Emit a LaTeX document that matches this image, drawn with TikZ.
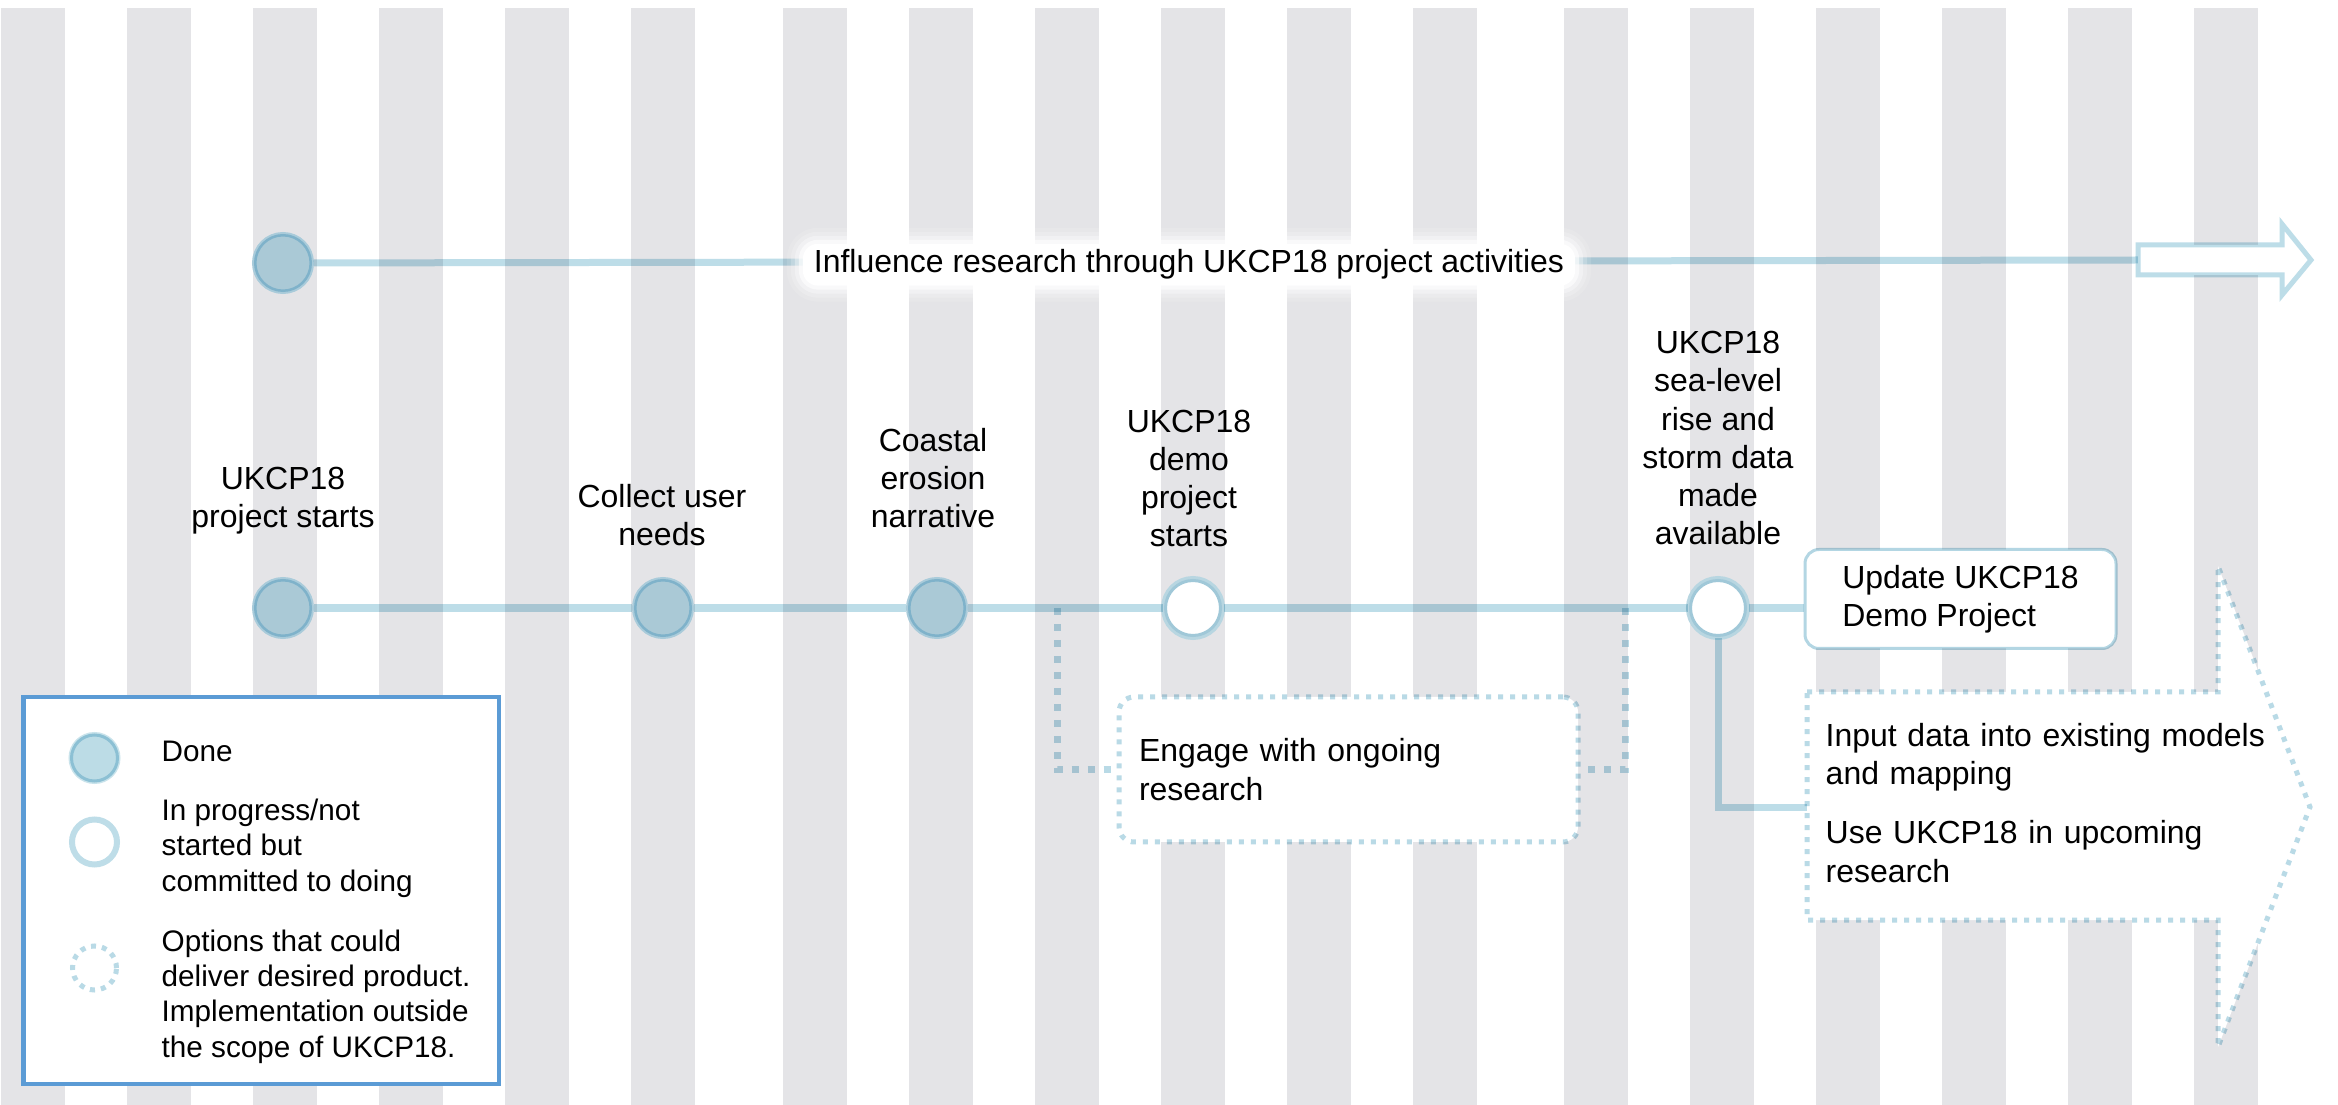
\documentclass[tikz,border=0pt]{standalone}
\usepackage{fontspec}
\setmainfont{Liberation Sans}
\usetikzlibrary{calc}
\definecolor{stripegray}{HTML}{E4E4E7}
\definecolor{lineblue}{HTML}{BDDDE8}
\definecolor{dotblue}{HTML}{B9DAE6}
\definecolor{donefill}{HTML}{AAC9D6}
\definecolor{donering}{HTML}{7FB2CA}
\definecolor{donehalo}{HTML}{A9CBDA}
\definecolor{openring}{HTML}{A0C8D8}
\definecolor{openhalo}{HTML}{B8D6E1}
\definecolor{lfill}{HTML}{BCDCE6}
\definecolor{lring}{HTML}{8CC0D4}
\definecolor{lhalo}{HTML}{C9E3EB}
\definecolor{lopenring}{HTML}{BEDDE8}
\definecolor{legblue}{HTML}{5B9BD5}
\definecolor{updborder}{HTML}{B3D6E3}
\newcommand\mainfs{\fontsize{9.1pt}{10.9pt}\selectfont}
\newcommand\legfs{\fontsize{8.45pt}{9.96pt}\selectfont}
\begin{document}
\begin{tikzpicture}[x=0.1mm,y=-0.1mm,
  stripe/.style={fill=stripegray},
  donec/.style={circle, inner sep=0pt, outer sep=0.3mm, minimum size=5.55mm,
    fill=donefill, draw=donering, line width=0.25mm,
    preaction={draw=donehalo, line width=0.65mm}},
  openc/.style={circle, inner sep=0pt, outer sep=0.3mm, minimum size=5.5mm,
    fill=white, draw=openring, line width=0.3mm,
    preaction={draw=openhalo, line width=0.9mm}},
  mline/.style={draw=lineblue, line width=0.8mm, blend mode=multiply},
  tline/.style={draw=lineblue, line width=0.7mm, blend mode=multiply},
  cline/.style={draw=lineblue, line width=0.7mm, blend mode=multiply},
  dline/.style={draw=dotblue, line width=0.7mm, dash pattern=on 0.7mm off 0.9mm, blend mode=multiply},
  dborder/.style={draw=dotblue, line width=0.5mm, dash pattern=on 0.5mm off 0.7mm, blend mode=multiply},
  lab/.style={align=center, inner sep=0pt, font=\mainfs, anchor=base},
  engbox/.style={rectangle, rounded corners=1.5mm, fill=white, text width=41.9mm,
    inner xsep=2mm, inner ysep=0pt, minimum height=14.5mm, align=left, font=\mainfs,
    postaction={dborder}},
  updbox/.style={rectangle, rounded corners=1.4mm, fill=white, minimum width=31.1mm,
    minimum height=9.9mm, inner sep=0pt, align=left, font=\mainfs,
    postaction={draw=updborder, line width=0.3mm, blend mode=multiply}},
  arrtext/.style={align=left, text width=46mm, inner sep=0pt, font=\mainfs, anchor=base west},
  toplab/.style={font=\mainfs, anchor=base, fill=white, inner xsep=1.1mm, inner ysep=0.6mm,
    rounded corners=1.5mm,
    preaction={draw=white, line width=3.2mm, opacity=0.12, rounded corners=1.5mm},
    preaction={draw=white, line width=2.4mm, opacity=0.2, rounded corners=1.5mm},
    preaction={draw=white, line width=1.6mm, opacity=0.35, rounded corners=1.5mm},
    preaction={draw=white, line width=0.8mm, opacity=0.6, rounded corners=1.5mm}},
  legt/.style={align=left, inner sep=0pt, font=\legfs, anchor=base west},
  ldone/.style={circle, inner sep=0pt, minimum size=4.6mm, fill=lfill, draw=lring,
    line width=0.3mm, preaction={draw=lhalo, line width=0.6mm}},
  lopen/.style={circle, inner sep=0pt, minimum size=4.5mm, fill=white, draw=lopenring,
    line width=0.6mm},
  ldot/.style={circle, inner sep=0pt, minimum size=4.4mm, draw=dotblue, line width=0.5mm,
    dash pattern=on 0.5mm off 0.6mm},
  legbox/.style={rectangle, draw=legblue, line width=0.45mm, fill=white, inner sep=0pt,
    minimum width=47.6mm, minimum height=38.7mm, anchor=north west}
]
\useasboundingbox (0,0) rectangle (2338,1105);
\fill[white] (0,0) rectangle (2338,1105);
% background stripes
\foreach \g in {0,1,2}{\foreach \k in {0,...,5}{
  \fill[stripe] ({1+781.5*\g+126*\k},8) rectangle ++(64,1097);}}

% ---------- top row ----------
\node[donec] (c0) at (283,263) {};
\coordinate (a1) at (2138,260);
\draw[tline] (c0) -- (a1);
\fill[white] (2138,245) -- (2282,245) -- (2282,224) -- (2311,260) -- (2282,295) -- (2282,275) -- (2138,275) -- cycle;
\draw[draw=lineblue, line width=0.5mm, blend mode=multiply] (2138,245) -- (2282,245) -- (2282,224) -- (2311,260) -- (2282,295) -- (2282,275) -- (2138,275) -- cycle;
\node[toplab] (inf) at (1189,273) {Influence research through UKCP18 project activities};

% ---------- main timeline ----------
\coordinate (j1) at (1057,608);
\coordinate (j2) at (1625,608);
\node[engbox] (eng) at (1348.5,769.5) {Engage with ongoing\\research};
\draw[dline] (j1) |- (eng.west);
\draw[dline] (j2) |- (eng.east);

% big dotted arrow
\coordinate (arrw) at (1807,807);
\fill[white] (1807,692) -- (2218,692) -- (2218,566) -- (2310,807) -- (2218,1047) -- (2218,920) -- (1807,920) -- cycle;
\draw[dborder] (1807,692) -- (2218,692) -- (2218,566) -- (2310,807) -- (2218,1047) -- (2218,920) -- (1807,920) -- cycle;
\node[arrtext] (opts) at (1825,746) {Input data into existing models\\and mapping\\[6pt]Use UKCP18 in upcoming\\research};

\node[updbox] (upd) at (1960.5,599) {Update UKCP18\\Demo Project};

\node[donec] (c1) at (283,608) {};
\node[donec] (c2) at (663,608) {};
\node[donec] (c3) at (937,608) {};
\node[openc] (c4) at (1193,608) {};
\node[openc] (c5) at (1718,608) {};
\draw[mline] (c1) -- (c2) -- (c3) -- (c4) -- (c5) -- (c5 -| upd.west);
\draw[cline] (c5) |- (arrw);

% labels above milestones (anchor = baseline of last line)
\node[lab] (l1) at (283,528) {UKCP18\\project starts};
\node[lab] (l2) at (662,546) {Collect user\\needs};
\node[lab] (l3) at (933,528) {Coastal\\erosion\\narrative};
\node[lab] (l4) at (1189,547) {UKCP18\\demo\\project\\starts};
\node[lab] (l5) at (1718,545) {UKCP18\\sea-level\\rise and\\storm data\\made\\available};

% ---------- legend ----------
\node[legbox] (leg) at (21,695) {};
\node[ldone] (k1) at (94.5,758) {};
\node[lopen] (k2) at (94.5,842) {};
\node[ldot] (k3) at (94.5,968) {};
\node[legt] (t1) at (161,761) {Done};
\node[legt] (t2) at (161,891) {In progress/not\\started but\\committed to doing};
\node[legt] (t3) at (161,1057) {Options that could\\deliver desired product.\\Implementation outside\\the scope of UKCP18.};
\end{tikzpicture}
\end{document}
